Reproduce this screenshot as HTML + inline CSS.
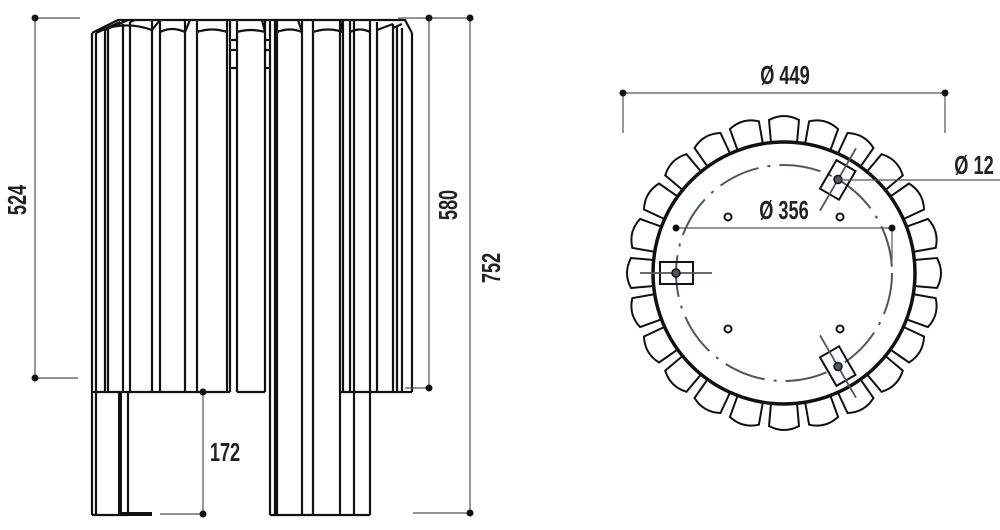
<!DOCTYPE html>
<html><head><style>
html,body{margin:0;padding:0;background:#fff;}
svg{display:block;}
text{font-family:"Liberation Sans",sans-serif;font-weight:bold;fill:#222;}
</style></head><body>
<svg width="1000" height="530" viewBox="0 0 1000 530" xmlns="http://www.w3.org/2000/svg">
<g stroke="#111" stroke-width="2.2" fill="none">
<path d="M92,33V515 M96,33V515 M105,30V392 M108,28V392 M123,24V392 M130,22V392 M152,20V392 M160,20V392 M185,20V392 M197,20V392 M227,20V392 M237,20V392 M265,20V392 M377,22V392 M393,24V392 M397,26V392 M402,28V392 M412,33V392 M343,20V392 M350,20V392"/>
<path d="M270,20V515 M277,20V515 M302,20V515 M313,20V515 M340,20V515 M354,20V515 M370,20V515"/>
<path d="M92,33 L118,20 L405,20 L412,33"/>
<path d="M96,33 L120,22 M105,30 L128,20 M108,28 Q130,22 152,30 M130,22 L135,20"/>
<path d="M160,32 Q172,26 185,32 M197,32 Q212,27 227,32 M237,32 Q251,28 265,32 M277,32 Q290,27 302,32 M313,32 Q328,27 343,32 M350,32 Q360,27 370,32 M377,30 L393,24 M393,28 L402,24"/>
<path d="M152,30 L160,20 M185,32 L190,20 M265,32 L262,20 M302,32 L298,20 M343,32 L340,20"/>
<path d="M230,20V392 M275,20V515 M230,40H237 M230,50H237 M230,68H237 M265,40H270 M265,50H270 M265,68H270"/>
<path d="M92,392H230 M237,392H265 M340,392H412 M92,515H128 M270,515H370"/>
<path d="M128,392V515"/>
</g>
<path d="M120,392V514 H152" stroke="#111" stroke-width="4" fill="none"/>
<g stroke="#555" stroke-width="1.2" fill="none">
<path d="M35,18V378 M35,18H80 M35,378H78 M203,392V514 M160,514H200 M429,18V388 M398,18H470 M405,388H429 M470,18V513 M413,513H470"/>
</g>
<g fill="#111">
<circle cx="35" cy="18" r="3.5"/><circle cx="35" cy="378" r="3.5"/>
<circle cx="203" cy="392" r="3.5"/><circle cx="203" cy="514" r="3.5"/>
<circle cx="429" cy="18" r="3.5"/><circle cx="429" cy="388" r="3.5"/>
<circle cx="470" cy="18" r="3.5"/><circle cx="470" cy="513" r="3.5"/>
</g>
<text x="0" y="0" font-size="26" text-anchor="middle" transform="translate(26,200) rotate(-90) scale(0.7,1)">524</text>
<text x="0" y="0" font-size="26" text-anchor="middle" transform="translate(457,205) rotate(-90) scale(0.7,1)">580</text>
<text x="0" y="0" font-size="26" text-anchor="middle" transform="translate(500,268) rotate(-90) scale(0.7,1)">752</text>
<text x="0" y="0" font-size="26" text-anchor="middle" transform="translate(225,461) scale(0.7,1)">172</text>

<g transform="translate(784,273)">
<g stroke="#111" stroke-width="2" fill="#fff">
<path id="t" d="M130,-13 L153,-15 Q161,0 153,15 L130,13"/>
<use href="#t" transform="rotate(15)"/><use href="#t" transform="rotate(30)"/><use href="#t" transform="rotate(45)"/>
<use href="#t" transform="rotate(60)"/><use href="#t" transform="rotate(75)"/><use href="#t" transform="rotate(90)"/>
<use href="#t" transform="rotate(105)"/><use href="#t" transform="rotate(120)"/><use href="#t" transform="rotate(135)"/>
<use href="#t" transform="rotate(150)"/><use href="#t" transform="rotate(165)"/><use href="#t" transform="rotate(180)"/>
<use href="#t" transform="rotate(195)"/><use href="#t" transform="rotate(210)"/><use href="#t" transform="rotate(225)"/>
<use href="#t" transform="rotate(240)"/><use href="#t" transform="rotate(255)"/><use href="#t" transform="rotate(270)"/>
<use href="#t" transform="rotate(285)"/><use href="#t" transform="rotate(300)"/><use href="#t" transform="rotate(315)"/>
<use href="#t" transform="rotate(330)"/><use href="#t" transform="rotate(345)"/>
</g>
<circle r="131" stroke="#111" stroke-width="3.5" fill="#fff"/>
<circle r="108" stroke="#4a5a5a" stroke-width="2" fill="none" stroke-dasharray="42 9 3 9"/>
<g stroke="#111" stroke-width="2" fill="none">
<circle cx="-56" cy="-56" r="3.5"/><circle cx="56" cy="-56" r="3.5"/>
<circle cx="-56" cy="56" r="3.5"/><circle cx="56" cy="56" r="3.5"/>
</g>
<g id="br">
<rect x="-124" y="-11" width="33" height="22" stroke="#111" stroke-width="2" fill="none"/>
<path d="M-144,0H-72" stroke="#4a5a5a" stroke-width="1.8"/>
<circle cx="-108" cy="0" r="4" fill="#4a5a5a" stroke="#111" stroke-width="1.5"/>
</g>
<use href="#br" transform="rotate(120)"/>
<use href="#br" transform="rotate(240)"/>
</g>
<g stroke="#555" stroke-width="1.2" fill="none">
<path d="M623,93H945 M623,93V133 M945,93V133 M676,228H892 M892,228V260 M838,180H1000"/>
</g>
<g fill="#111">
<circle cx="623" cy="93" r="3.5"/><circle cx="945" cy="93" r="3.5"/>
<circle cx="676" cy="228" r="3.5"/><circle cx="892" cy="228" r="3.5"/>
</g>
<text x="0" y="0" font-size="26" text-anchor="middle" transform="translate(785,84) scale(0.7,1)">Ø 449</text>
<text x="0" y="0" font-size="26" text-anchor="middle" transform="translate(784,219) scale(0.7,1)">Ø 356</text>
<text x="0" y="0" font-size="26" text-anchor="middle" transform="translate(974,174) scale(0.7,1)">Ø 12</text>
</svg>
</body></html>
